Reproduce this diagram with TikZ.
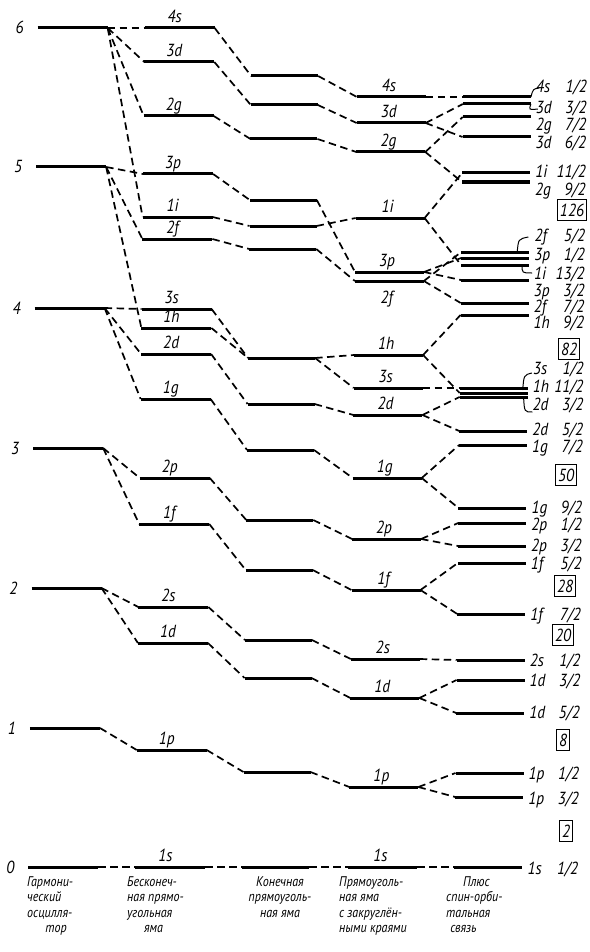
\documentclass[tikz,border=0pt]{standalone}
\usepackage{fontspec}
\setmainfont{PT Sans}
\newfontfamily\labfont{PT Sans}[FakeStretch=0.88]
\newfontfamily\capfont{PT Sans}[FakeStretch=0.86]
\begin{document}
\begin{tikzpicture}[x=1pt,y=-1pt,
  lev/.style={line width=3pt},
  con/.style={line width=1.7pt,dash pattern=on 7.5pt off 4.5pt},
  hookln/.style={line width=1pt},
  lab/.style={font=\labfont\itshape\fontsize{17.5}{17.5}\selectfont,inner sep=0pt},
  capt/.style={font=\capfont\itshape\fontsize{14}{15.5}\selectfont,inner sep=0pt,align=left,anchor=north west},
  magic/.style={draw,line width=1pt,inner xsep=2.5pt,inner ysep=4pt,font=\labfont\itshape\fontsize{17.5}{17.5}\selectfont}]
\useasboundingbox[fill=white] (0,0) rectangle (589,952);
\begin{scope}[xslant=0.011]
% oscillator levels
\foreach \N/\y in {6/28,5/167,4/308,3/448,2/588,1/728,0/867}{
  \coordinate (osc\N-L) at (38,\y);
  \coordinate (osc\N-R) at (108,\y);
  \draw[lev] (osc\N-L) -- (osc\N-R);
  \node[lab,anchor=base] (num\N) at (20,\y+6) {\N};
}
% orbital levels in columns 2-4
\foreach \o/\N/\ya/\yb/\yc in {4s/6/28/76/97, 3d/6/62/105/123, 2g/6/116/139/152,
   1i/6/217/226/218, 3p/5/174/200/272, 2f/5/239/249/281, 1h/5/328/358/355,
   3s/4/309/358/388, 2d/4/354/404/415, 1g/4/399/450/478, 2p/3/478/520/539,
   1f/3/524/570/590, 2s/2/607/640/659, 1d/2/643/678/698, 1p/1/750/772/787,
   1s/0/867/867/867}{
  \coordinate (\o-2L) at (145,\ya); \coordinate (\o-2R) at (215,\ya);
  \coordinate (\o-3L) at (252,\yb); \coordinate (\o-3R) at (319,\yb);
  \coordinate (\o-4L) at (358,\yc); \coordinate (\o-4R) at (427,\yc);
  \draw[con] (osc\N-R) -- (\o-2L);
  \draw[lev] (\o-2L) -- (\o-2R);
  \draw[con] (\o-2R) -- (\o-3L);
  \draw[lev] (\o-3L) -- (\o-3R);
  \draw[con] (\o-3R) -- (\o-4L);
  \draw[lev] (\o-4L) -- (\o-4R);
  \node[lab,anchor=base] (\o-t2) at (175,\ya-5.5) {\o};
}
% column 4 labels
\foreach \o/\y in {4s/97,3d/123,2g/152,1i/218,3p/272,1h/355,3s/388,2d/415,1g/478,
   2p/539,1f/590,2s/659,1d/698,1p/787,1s/867}{
  \node[lab,anchor=base] (\o-t4) at (390,\y-5.5) {\o};
}
\node[lab,anchor=base] (2f-t4) at (390,303) {2f};
% spin-orbit levels
\foreach \o/\jt/\y/\ly in {4s/{1/2}/97/87, 3d/{3/2}/104/108, 2g/{7/2}/117/125,
   3d/{6/2}/137/143, 1i/{11/2}/173/172, 2g/{9/2}/182/189, 2f/{5/2}/252/235,
   3p/{1/2}/258/254, 1i/{13/2}/265/273, 3p/{3/2}/280/290, 2f/{7/2}/303/306,
   1h/{9/2}/315/322, 3s/{1/2}/388/368, 1h/{11/2}/393/386, 2d/{3/2}/397/404,
   2d/{5/2}/431/429, 1g/{7/2}/445/446, 1g/{9/2}/508/507, 2p/{1/2}/523/524,
   2p/{3/2}/546/545, 1f/{5/2}/563/563, 1f/{7/2}/614/614, 2s/{1/2}/660/660,
   1d/{3/2}/680/680, 1d/{5/2}/713/712, 1p/{1/2}/773/773, 1p/{3/2}/797/798,
   1s/{1/2}/867/868}{
  \coordinate (s\o\y-L) at (464,\y); \coordinate (s\o\y-R) at (532,\y);
  \draw[con] (\o-4R) -- (s\o\y-L);
  \draw[lev] (s\o\y-L) -- (s\o\y-R);
  \node[lab,anchor=base west] (n\o\y) at (537,\ly+6) {\o};
  \node[lab,anchor=base east] (j\o\y) at (588,\ly+6) {\jt};
}
% hooks
\draw[hookln] (s4s97-R) .. controls (534,89) .. (540,88);
\draw[hookln] (s3d104-R) .. controls (530,110) .. (539,109);
\draw[hookln] (531,237) .. controls (521,239) .. (520,252);
\draw[hookln] (525,265) .. controls (525,273) .. (535,273);
\draw[hookln] (536,373) .. controls (528,375) .. (527,390);
\draw[hookln] (528,398) .. controls (529,412) .. (537,412);
\end{scope}
% magic numbers
\node[magic] (m126) at (572,210) {126};
\node[magic] (m82) at (569,349) {82};
\node[magic] (m50) at (566,475) {50};
\node[magic] (m28) at (565,586) {28};
\node[magic] (m20) at (563,635) {20};
\node[magic] (m8) at (563,740) {8};
\node[magic] (m2) at (566,831) {2};
% captions
\node[capt] (c1) at (27,876) {Гармони-\\ческий\\осцилля-\\\hspace*{1.3em}тор};
\node[capt] (c2) at (127,876) {Бесконеч-\\ная прямо-\\угольная\\\hspace*{1.2em}яма};
\node[capt,align=center,anchor=north] (c3) at (280,876) {Конечная\\прямоуголь-\\ная яма};
\node[capt] (c4) at (339,876) {Прямоуголь-\\ная яма\\с закруглён-\\ными краями};
\node[capt] (c5) at (446,876) {\hspace*{1.2em}Плюс\\спин-орби-\\тальная\\\hspace*{0.3em}связь};
\end{tikzpicture}
\end{document}
